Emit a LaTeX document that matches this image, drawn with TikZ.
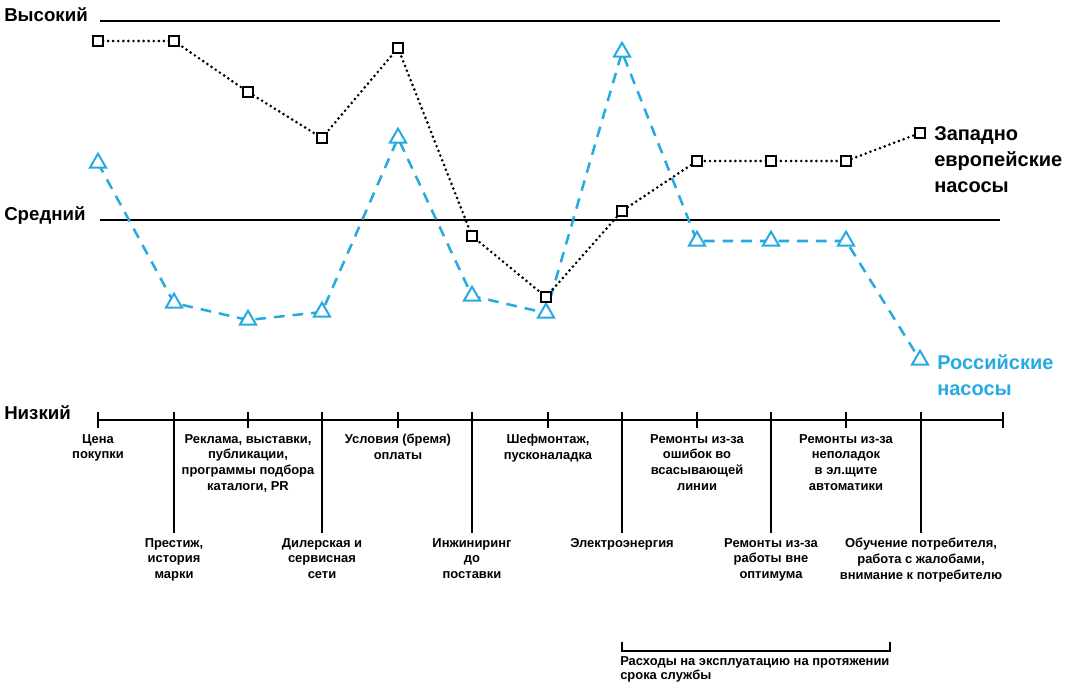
\documentclass[tikz,border=0pt]{standalone}
\usepackage{fontspec}
\setmainfont{Liberation Sans}
\usetikzlibrary{shapes.geometric}
\definecolor{rublue}{RGB}{38,170,225}

\begin{document}
\begin{tikzpicture}[
  x=0.75pt, y=-0.75pt,
  level/.style={line width=2pt},
  grid/.style={line width=1.6pt},
  lvl/.style={font=\bfseries\fontsize{14}{16}\selectfont, anchor=west, inner sep=0pt},
  cost/.style={font=\bfseries\fontsize{9.7}{11.8}\selectfont, align=center, anchor=north, inner sep=0pt},
  series/.style={font=\bfseries\fontsize{15}{19.5}\selectfont, align=left, anchor=north west, inner sep=0pt},
  wline/.style={line width=2.2pt, line cap=round, dash pattern=on 0pt off 3.8pt},
  rline/.style={rublue, line width=1.9pt, dash pattern=on 8pt off 6pt},
  sq/.style={draw, line width=1.5pt, fill=white, minimum size=7.5pt, inner sep=0pt},
  tri/.style={draw=rublue, line width=1.5pt, fill=white, regular polygon, regular polygon sides=3, minimum size=14pt, inner sep=0pt}
]
\useasboundingbox (0,0) rectangle (1078,685);

% levels
\node[lvl] (high) at (4,15) {Высокий};
\node[lvl] (mid) at (4,215) {Средний};
\node[lvl] (low) at (4,413) {Низкий};
\draw[level] (100,21) -- (1000,21);
\draw[level] (100,220) -- (1000,220);

% cost axis
\draw[level] (98,420) -- (1003,420);
\foreach \x in {98,248,398,548,697,846,1003}
  \draw[grid] (\x,412) -- (\x,428);
\foreach \x in {174,322,472,622,771,921}
  \draw[grid] (\x,412) -- (\x,533);

\node[cost] (price) at (98,434) {Цена\\покупки};
\node[cost] (adv) at (248,434) {Реклама, выставки,\\публикации,\\программы подбора\\каталоги, PR};
\node[cost] (pay) at (398,434) {Условия (бремя)\\оплаты};
\node[cost] (setup) at (548,434) {Шефмонтаж,\\пусконаладка};
\node[cost] (suction) at (697,434) {Ремонты из-за\\ошибок во\\всасывающей\\линии};
\node[cost] (panel) at (846,434) {Ремонты из-за\\неполадок\\в эл.щите\\автоматики};

\node[cost] (brand) at (174,538) {Престиж,\\история\\марки};
\node[cost] (dealer) at (322,538) {Дилерская и\\сервисная\\сети};
\node[cost] (eng) at (472,538) {Инжиниринг\\до\\поставки};
\node[cost] (power) at (622,538) {Электроэнергия};
\node[cost] (offopt) at (771,538) {Ремонты из-за\\работы вне\\оптимума};
\node[cost] (train) at (921,538) {Обучение потребителя,\\работа с жалобами,\\внимание к потребителю};

% operating costs bracket
\draw[grid] (622,642) -- (622,651) -- (890,651) -- (890,642);
\node[cost, anchor=north west, align=left, font=\bfseries\fontsize{9.7}{11}\selectfont] (opex) at (620,656) {Расходы на эксплуатацию на протяжении\\срока службы};

% western pumps
\foreach \n/\x/\y in {1/98/41, 2/174/41, 3/248/92, 4/322/138, 5/398/48, 6/472/236,
    7/546/297, 8/622/211, 9/697/161, 10/771/161, 11/846/161, 12/920/133}
  \coordinate (w\n) at (\x,\y);
% russian pumps
\foreach \n/\x/\y in {1/98/163, 2/174/303, 3/248/320, 4/322/312, 5/398/138, 6/472/296,
    7/546/313, 8/622/52, 9/697/241, 10/771/241, 11/846/241, 12/920/360}
  \coordinate (r\n) at (\x,\y);

\draw[rline] (r1) -- (r2) -- (r3) -- (r4) -- (r5) -- (r6) -- (r7) -- (r8) -- (r9) -- (r10) -- (r11) -- (r12);
\draw[wline] (w1) -- (w2) -- (w3) -- (w4) -- (w5) -- (w6) -- (w7) -- (w8) -- (w9) -- (w10) -- (w11) -- (w12);

\foreach \n in {1,...,12} {
  \node[tri] (rt\n) at (r\n) {};
  \node[sq] (ws\n) at (w\n) {};
}

\node[series] (weu) at (934,126) {Западно\\европейские\\насосы};
\node[series, rublue] (rus) at (937,354) {Российские\\насосы};
\end{tikzpicture}
\end{document}
